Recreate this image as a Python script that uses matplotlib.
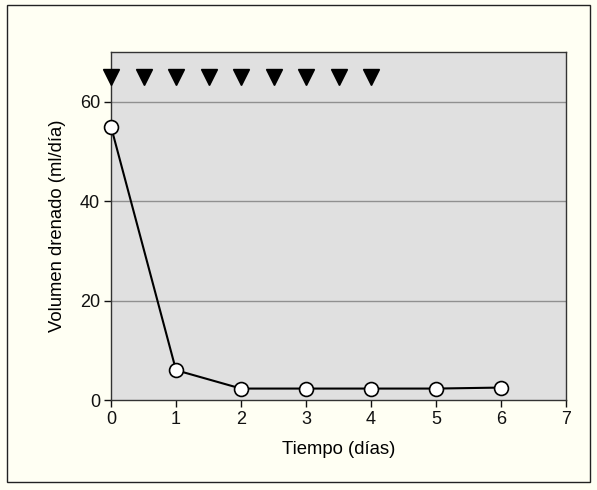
import matplotlib
matplotlib.use('Agg')
import matplotlib.pyplot as plt
from matplotlib.patches import Rectangle

# data
days = [0, 1, 2, 3, 4, 5, 6]
volume = [55, 6, 2.3, 2.3, 2.3, 2.3, 2.5]
dose_days = [0, 0.5, 1, 1.5, 2, 2.5, 3, 3.5, 4]
dose_level = [65] * len(dose_days)

x_ticks = [0, 1, 2, 3, 4, 5, 6, 7]
y_ticks = [0, 20, 40, 60]

plt.rcParams['font.family'] = ['Liberation Sans', 'DejaVu Sans']

bg = '#fffff3'
fig = plt.figure(figsize=(5.97, 4.90), dpi=100, facecolor=bg)
fig.patches.append(Rectangle((7 / 597, 8 / 490), 583 / 597, 477 / 490, transform=fig.transFigure,
                             fill=False, edgecolor='#222222', linewidth=1.0))

ax = fig.add_axes([111 / 597, 90 / 490, 455 / 597, 348 / 490])
ax.set_facecolor('#e0e0e0')
ax.set_xlim(0, 7)
ax.set_ylim(0, 70)
ax.set_xticks(x_ticks)
ax.set_yticks(y_ticks)
ax.tick_params(direction='out', length=5, width=1, labelsize=13, colors='#111111', pad=3)
for s in ax.spines.values():
    s.set_color('#333333')
    s.set_linewidth(1.0)

for y in y_ticks[1:]:
    ax.axhline(y, color='#909090', linewidth=1.0, zorder=1)

ax.plot(dose_days, dose_level, linestyle='none', marker='v', markersize=11.5,
        color='black', clip_on=False, zorder=4)
ax.plot(days, volume, color='black', linewidth=1.5, marker='o', markersize=10,
        markerfacecolor='white', markeredgecolor='black', markeredgewidth=1.2,
        clip_on=False, zorder=5)

ax.set_xlabel('Tiempo (días)', fontsize=13.3, labelpad=9)
ax.set_ylabel('Volumen drenado (ml/día)', fontsize=13.3, labelpad=10)

fig.savefig('out.png', dpi=100, facecolor=bg)
